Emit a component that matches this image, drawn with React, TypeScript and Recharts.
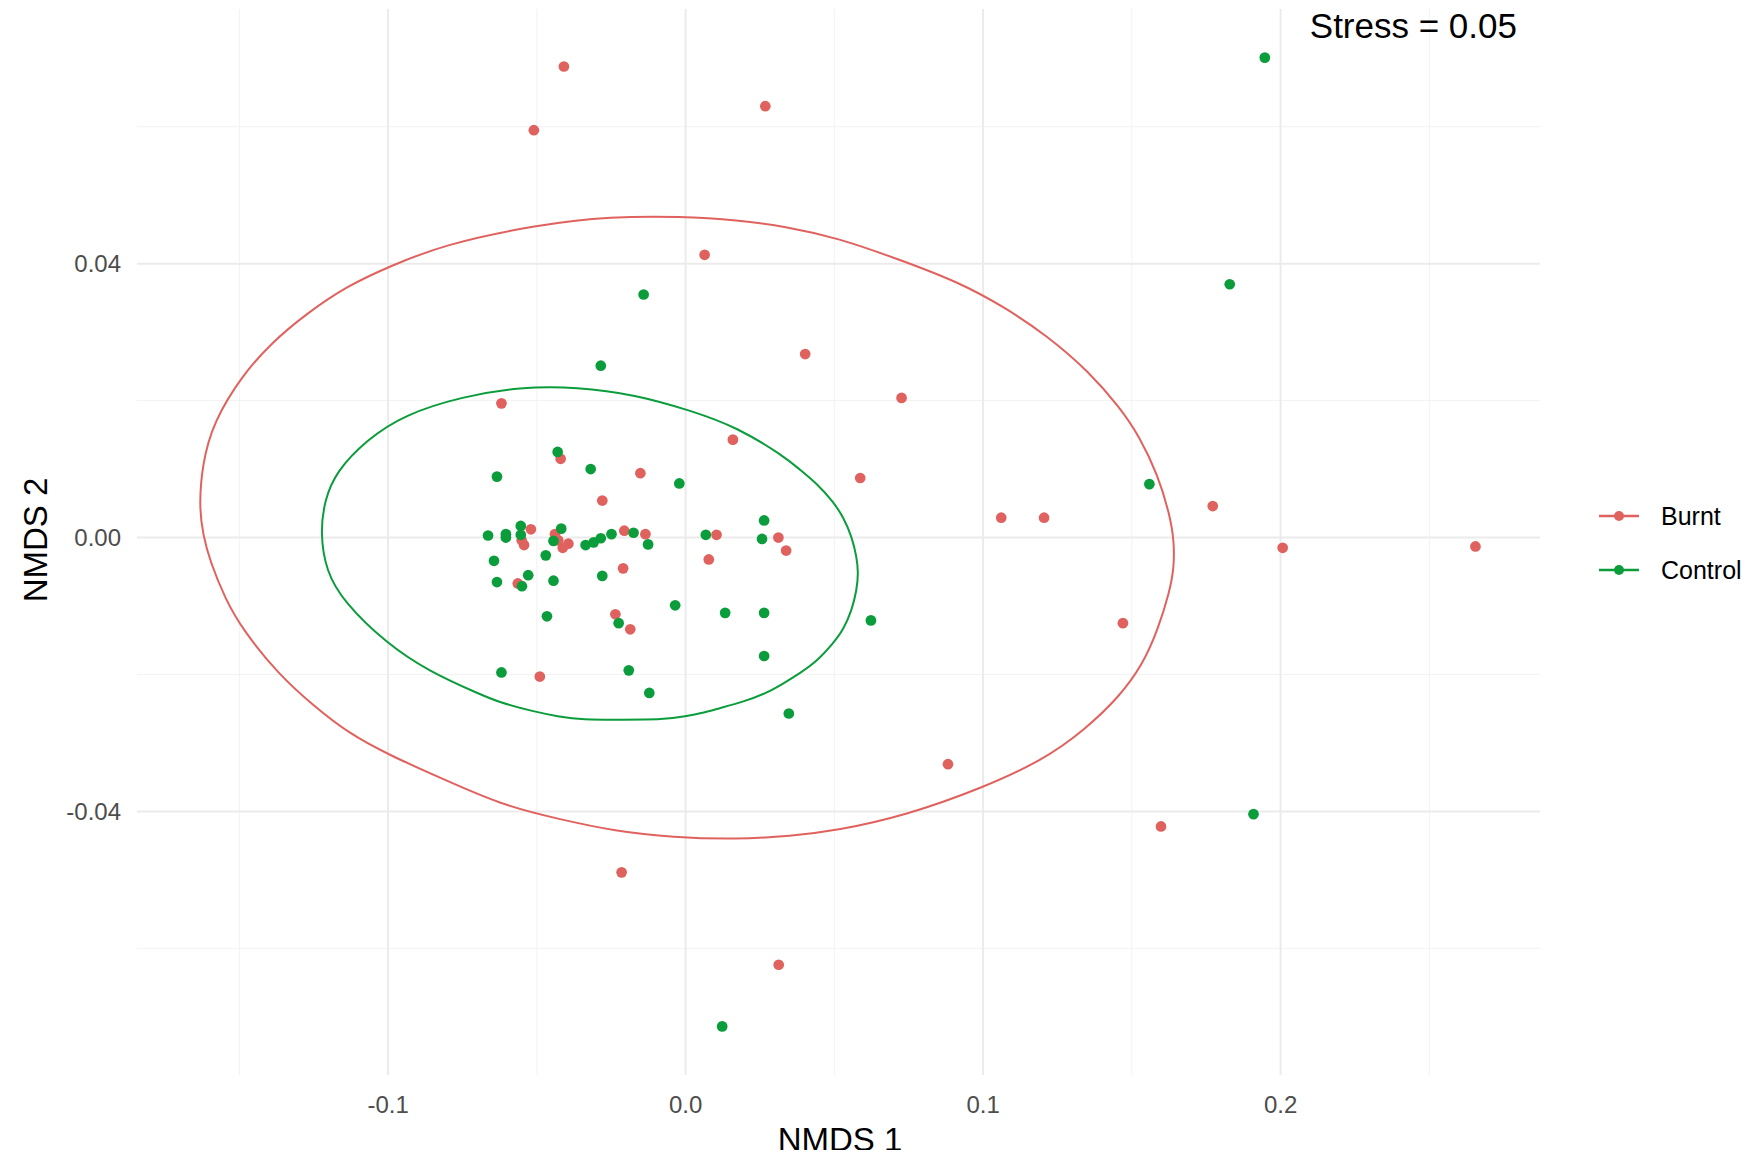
import { ComposedChart, Scatter, Line, XAxis, YAxis, ZAxis, ReferenceLine } from "recharts";

const FONT = '"Liberation Sans", Arial, sans-serif';
const RED = "#e0625f";
const GREEN = "#0b9c3b";

const xTicks = [-0.1, 0, 0.1, 0.2];
const yTicks = [-0.04, 0, 0.04];
const xMinor = [-0.15, -0.05, 0.05, 0.15, 0.25];
const yMinor = [-0.06, -0.02, 0.02, 0.06];

// NMDS scores
const burnt = [
  [0.0159, 0.0143], [0.0587, 0.0087], [-0.042, 0.0115], [-0.0152, 0.0094], [-0.028, 0.0054],
  [-0.052, 0.0012], [-0.0551, -0.0004], [-0.0543, -0.0011], [-0.0439, 0.0005], [-0.0428, -0.0004],
  [-0.0413, -0.0015], [-0.0394, -0.0009], [-0.0206, 0.001], [-0.0135, 0.0005], [0.0104, 0.0004],
  [0.0312, 0.0], [0.0338, -0.0019], [0.0078, -0.0032], [-0.021, -0.0045], [-0.0564, -0.0067],
  [-0.0236, -0.0112], [-0.0186, -0.0134], [-0.049, -0.0203],
  [-0.0409, 0.0688], [-0.051, 0.0595], [0.0268, 0.063], [0.0064, 0.0413], [-0.0619, 0.0196],
  [0.0402, 0.0268], [0.0726, 0.0204], [0.1772, 0.0046], [0.1061, 0.0029], [0.1205, 0.0029],
  [0.2007, -0.0015], [0.2655, -0.0013], [0.147, -0.0125], [0.0882, -0.0331], [0.1598, -0.0422],
  [-0.0215, -0.0489], [0.0313, -0.0624],
];

const control = [
  [-0.043, 0.0125], [-0.0634, 0.0089], [-0.0319, 0.01], [-0.0021, 0.0079], [0.0264, 0.0025],
  [0.0257, -0.0002], [0.0068, 0.0004], [-0.0664, 0.0003], [-0.0604, 0.0005], [-0.0604, 0.0],
  [-0.0554, 0.0017], [-0.0554, 0.0004], [-0.0418, 0.0013], [-0.0444, -0.0005], [-0.0336, -0.0011],
  [-0.0309, -0.0007], [-0.0285, -0.0001], [-0.0249, 0.0005], [-0.0175, 0.0007], [-0.0126, -0.001],
  [-0.0644, -0.0034], [-0.047, -0.0026], [-0.0634, -0.0065], [-0.0529, -0.0055], [-0.055, -0.0071],
  [-0.0444, -0.0063], [-0.028, -0.0056], [-0.0035, -0.0099], [0.0133, -0.011], [0.0264, -0.011],
  [0.0623, -0.0121], [-0.0466, -0.0115], [-0.0225, -0.0125], [0.0264, -0.0173], [-0.0619, -0.0197],
  [-0.0191, -0.0194], [-0.0122, -0.0227], [0.0347, -0.0257],
  [-0.0141, 0.0355], [-0.0285, 0.0251], [0.1947, 0.0701], [0.1829, 0.037], [0.1559, 0.0078],
  [0.1909, -0.0404], [0.0123, -0.0714],
];

// ellipse outlines (closed by the curve type)
const burntEllipse = [
  [-0.1635, 0.0044], [-0.1625, 0.0107], [-0.1587, 0.0169], [-0.149, 0.0237], [-0.1393, 0.0284],
  [-0.1278, 0.0326], [-0.1136, 0.0368], [-0.0995, 0.0396], [-0.0814, 0.0428], [-0.0497, 0.0457],
  [-0.0249, 0.0469], [-0.0017, 0.0469], [0.0173, 0.0464], [0.0341, 0.0454], [0.0508, 0.0438],
  [0.0713, 0.0407], [0.0919, 0.0373], [0.1074, 0.0336], [0.1215, 0.0295], [0.1357, 0.0242],
  [0.1459, 0.019], [0.1524, 0.0149], [0.1588, 0.0091], [0.1627, 0.0034], [0.1642, -0.0004],
  [0.1642, -0.0044], [0.1627, -0.0079], [0.1588, -0.0134], [0.1537, -0.0185], [0.1459, -0.0232],
  [0.1344, -0.028], [0.1202, -0.0325], [0.0997, -0.0366], [0.0739, -0.0406], [0.0508, -0.0428],
  [0.0353, -0.0436], [0.0173, -0.0441], [-0.0043, -0.0438], [-0.0236, -0.0429], [-0.0429, -0.0411],
  [-0.0622, -0.039], [-0.0814, -0.0353], [-0.0995, -0.0318], [-0.1136, -0.0285], [-0.1252, -0.0245],
  [-0.1368, -0.02], [-0.149, -0.0134], [-0.1548, -0.0089], [-0.1599, -0.0034], [-0.1622, 0.0004],
];

const controlEllipse = [
  [-0.1228, 0.0008], [-0.1213, 0.0055], [-0.1175, 0.0096], [-0.1072, 0.0143], [-0.0943, 0.018],
  [-0.075, 0.0206], [-0.0557, 0.022], [-0.0364, 0.022], [-0.0171, 0.0209], [0.0022, 0.0185],
  [0.0173, 0.0161], [0.0327, 0.012], [0.0385, 0.0099], [0.0441, 0.0079], [0.0497, 0.0052],
  [0.053, 0.003], [0.0559, 0.0001], [0.0575, -0.0028], [0.0581, -0.0052], [0.0575, -0.0077],
  [0.0559, -0.0106], [0.053, -0.0135], [0.0497, -0.0154], [0.0441, -0.0181], [0.0385, -0.0198],
  [0.0329, -0.0213], [0.0273, -0.0227], [0.0194, -0.024], [0.0116, -0.0249], [0.0049, -0.0257],
  [0.0004, -0.0261], [-0.0075, -0.0266], [-0.0213, -0.0266], [-0.0349, -0.0266], [-0.0422, -0.0262],
  [-0.0512, -0.0254], [-0.0624, -0.0241], [-0.0686, -0.023], [-0.0866, -0.0195], [-0.1007, -0.0154],
  [-0.1149, -0.0094], [-0.1209, -0.0049],
];

const toRows = (pts: number[][]) => pts.map(([x, y]) => ({ x, y }));

const tickStyle = { fill: "#4d4d4d", fontSize: 24, fontFamily: FONT };

export default function App() {
  return (
    <div style={{ position: "relative", width: 1753, height: 1158, margin: -8, background: "#fff" }}>
      <ComposedChart width={1753} height={1158} margin={{ top: 9, right: 213, bottom: 0, left: 0 }}>
        {xMinor.map((v) => (
          <ReferenceLine key={"vx" + v} x={v} stroke="#f2f2f2" strokeWidth={1} />
        ))}
        {yMinor.map((v) => (
          <ReferenceLine key={"hy" + v} y={v} stroke="#f2f2f2" strokeWidth={1} />
        ))}
        {xTicks.map((v) => (
          <ReferenceLine key={"VX" + v} x={v} stroke="#ebebeb" strokeWidth={2} />
        ))}
        {yTicks.map((v) => (
          <ReferenceLine key={"HY" + v} y={v} stroke="#ebebeb" strokeWidth={2} />
        ))}
        <XAxis
          type="number"
          dataKey="x"
          domain={[-0.1844, 0.2872]}
          allowDataOverflow
          ticks={xTicks}
          tickFormatter={(v: number) => v.toFixed(1)}
          axisLine={false}
          tickLine={false}
          tickMargin={15}
          height={83}
          tick={tickStyle}
        />
        <YAxis
          type="number"
          dataKey="y"
          domain={[-0.0785, 0.0772]}
          allowDataOverflow
          ticks={yTicks}
          tickFormatter={(v: number) => v.toFixed(2)}
          axisLine={false}
          tickLine={false}
          tickMargin={10}
          width={137}
          tick={tickStyle}
        />
        <ZAxis range={[90, 90]} />
        <Scatter name="Burnt" data={toRows(burnt)} fill={RED} isAnimationActive={false} />
        <Scatter name="Control" data={toRows(control)} fill={GREEN} isAnimationActive={false} />
        <Line
          data={toRows(burntEllipse)}
          dataKey="y"
          type="basisClosed"
          stroke={RED}
          strokeWidth={2}
          dot={false}
          activeDot={false}
          legendType="none"
          isAnimationActive={false}
        />
        <Line
          data={toRows(controlEllipse)}
          dataKey="y"
          type="basisClosed"
          stroke={GREEN}
          strokeWidth={2}
          dot={false}
          activeDot={false}
          legendType="none"
          isAnimationActive={false}
        />
      </ComposedChart>
      <svg
        width={1753}
        height={1158}
        style={{ position: "absolute", left: 0, top: 0, pointerEvents: "none" }}
        fontFamily={FONT}
      >
        <text x={35} y={540} transform="rotate(-90 35 540)" textAnchor="middle" dominantBaseline="central" fontSize={33} fill="#000">
          NMDS 2
        </text>
        <text x={840} y={1151} textAnchor="middle" fontSize={33} fill="#000">
          NMDS 1
        </text>
        <text x={1517} y={38} textAnchor="end" fontSize={35} fill="#000">
          Stress = 0.05
        </text>
        <line x1={1599} y1={516} x2={1639} y2={516} stroke={RED} strokeWidth={2.5} />
        <circle cx={1619} cy={516} r={5} fill={RED} />
        <text x={1661} y={516} dominantBaseline="central" fontSize={25} fill="#000">
          Burnt
        </text>
        <line x1={1599} y1={570} x2={1639} y2={570} stroke={GREEN} strokeWidth={2.5} />
        <circle cx={1619} cy={570} r={5} fill={GREEN} />
        <text x={1661} y={570} dominantBaseline="central" fontSize={25} fill="#000">
          Control
        </text>
      </svg>
    </div>
  );
}
